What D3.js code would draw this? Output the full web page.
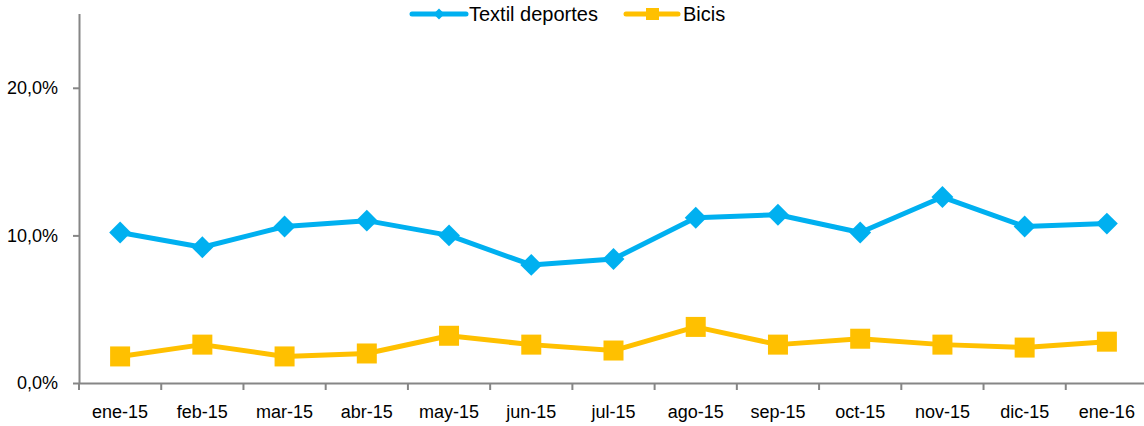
<!DOCTYPE html>
<html><head><meta charset="utf-8">
<script src="https://cdn.jsdelivr.net/npm/d3@7"></script>
<style>body{margin:0;background:#fff}svg{display:block}text{font-family:"Liberation Sans",Arial,sans-serif;fill:#000}</style>
</head><body><svg id="c" width="1144" height="426"></svg>
<script>
const categories = ["ene-15","feb-15","mar-15","abr-15","may-15","jun-15","jul-15","ago-15","sep-15","oct-15","nov-15","dic-15","ene-16"];
const textil = [0.102,0.092,0.106,0.110,0.100,0.080,0.084,0.112,0.114,0.102,0.126,0.106,0.108];
const bicis = [0.018,0.026,0.018,0.020,0.032,0.026,0.022,0.038,0.026,0.030,0.026,0.024,0.028];
const yTicks = [0,0.10,0.20];
const seriesNames = ["Textil deportes","Bicis"];

const svg = d3.select("#c");
const mLeft = 79, mRight = 1148, mTop = 14, mBottom = 383;
const x = d3.scaleBand().domain(categories).range([mLeft,mRight]).padding(0);
const y = d3.scaleLinear().domain([0,0.25]).range([mBottom,mTop]);
const loc = d3.formatLocale({decimal:",",thousands:".",grouping:[3],currency:["","€"],percent:"%"});
const fmt = loc.format(".1%");
const axisColor = "#868686";

// y axis
const ya = svg.append("g").attr("transform",`translate(${mLeft},0)`)
  .call(d3.axisLeft(y).tickValues(yTicks).tickFormat(fmt).tickSize(6).tickPadding(15));
ya.select(".domain").attr("stroke",axisColor).attr("stroke-width",2).attr("d",`M0.5,${mTop}V${mBottom}`);
ya.selectAll(".tick line").attr("stroke",axisColor).attr("stroke-width",2);
ya.selectAll(".tick text").style("font-size","18px").style("font-family","'Liberation Sans',Arial,sans-serif").attr("fill","#000");

// x axis
const xa = svg.append("g").attr("transform",`translate(0,${mBottom})`);
xa.append("line").attr("x1",mLeft).attr("x2",mRight).attr("y1",0.5).attr("y2",0.5).attr("stroke",axisColor).attr("stroke-width",2);
const bounds = categories.map(c=>x(c)).concat([mRight]);
xa.selectAll("line.tk").data(bounds).join("line").attr("class","tk")
  .attr("x1",d=>d).attr("x2",d=>d).attr("y1",0).attr("y2",7).attr("stroke",axisColor).attr("stroke-width",2);
xa.selectAll("text").data(categories).join("text")
  .attr("x",d=>x(d)+x.bandwidth()/2).attr("y",35).attr("text-anchor","middle")
  .style("font-size","18px").text(d=>d);

const cx = c=>x(c)+x.bandwidth()/2;
const line = d3.line().x((d,i)=>cx(categories[i])).y(d=>y(d));

// Textil
svg.append("path").datum(textil).attr("d",line).attr("fill","none").attr("stroke","#00B0F0").attr("stroke-width",5).attr("stroke-linejoin","round");
svg.selectAll("path.dm").data(textil).join("path").attr("class","dm")
  .attr("transform",(d,i)=>`translate(${cx(categories[i])},${y(d)}) rotate(45)`)
  .attr("d",d3.symbol().type(d3.symbolSquare).size(240)).attr("fill","#00B0F0");

// Bicis
svg.append("path").datum(bicis).attr("d",line).attr("fill","none").attr("stroke","#FFC000").attr("stroke-width",5).attr("stroke-linejoin","round");
svg.selectAll("rect.sq").data(bicis).join("rect").attr("class","sq")
  .attr("x",(d,i)=>cx(categories[i])-10).attr("y",d=>y(d)-10).attr("width",20).attr("height",20).attr("fill","#FFC000");

// legend
const lg = svg.append("g");
lg.append("line").attr("x1",412).attr("x2",466).attr("y1",14).attr("y2",14).attr("stroke","#00B0F0").attr("stroke-width",5).attr("stroke-linecap","round");
lg.append("path").attr("transform","translate(439,14) rotate(45)").attr("d",d3.symbol().type(d3.symbolSquare).size(60)).attr("fill","#00B0F0");
lg.append("text").attr("x",469).attr("y",21).style("font-size","20px").text(seriesNames[0]);
lg.append("line").attr("x1",626).attr("x2",678).attr("y1",14).attr("y2",14).attr("stroke","#FFC000").attr("stroke-width",5).attr("stroke-linecap","round");
lg.append("rect").attr("x",646).attr("y",8).attr("width",13).attr("height",12).attr("fill","#FFC000");
lg.append("text").attr("x",683).attr("y",21).style("font-size","20px").text(seriesNames[1]);
</script></body></html>
